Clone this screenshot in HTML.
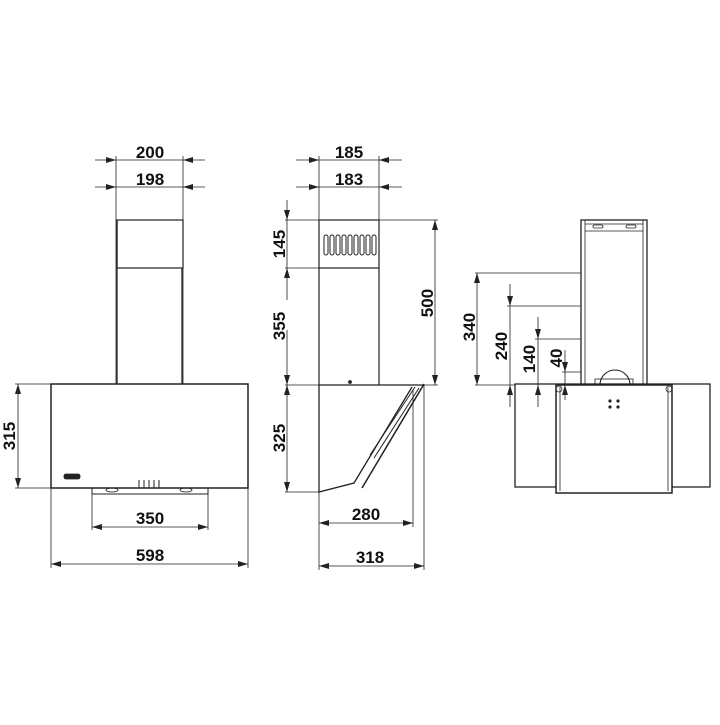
<!DOCTYPE html>
<html><head><meta charset="utf-8"><style>
body{margin:0;background:#fff}
svg text{font-family:"Liberation Sans",sans-serif;font-weight:bold;font-size:17px;fill:#111}
</style></head><body>
<svg width="720" height="720" viewBox="0 0 720 720" xmlns="http://www.w3.org/2000/svg">
<defs>
<marker id="a" viewBox="0 0 10 6" refX="10" refY="3" markerWidth="10" markerHeight="6" orient="auto-start-reverse" markerUnits="userSpaceOnUse"><path d="M0,0L10,3L0,6z" fill="#222"/></marker>
</defs>
<g stroke="#222" fill="none" stroke-width="0.8">
<line x1="116" y1="156" x2="116" y2="384"/><line x1="183" y1="156" x2="183" y2="384"/>
<line x1="95" y1="160" x2="116" y2="160" marker-end="url(#a)"/><line x1="205" y1="160" x2="183" y2="160" marker-end="url(#a)"/>
<line x1="116" y1="160" x2="183" y2="160"/>
<line x1="95" y1="187" x2="116" y2="187" marker-end="url(#a)"/><line x1="205" y1="187" x2="183" y2="187" marker-end="url(#a)"/>
<line x1="116" y1="187" x2="183" y2="187"/>
<rect x="117" y="220" width="66" height="48" stroke-width="1.2"/>
<line x1="117" y1="220" x2="117" y2="384" stroke-width="1.3"/><line x1="182" y1="268" x2="182" y2="384" stroke-width="1.3"/>
<rect x="51" y="384" width="197" height="104" stroke-width="1.5"/>
<rect x="64" y="474" width="16" height="5" rx="2" fill="#222"/>
<path d="M92,488V494H208V488" stroke-width="1"/>
<g stroke-width="1"><line x1="139" y1="488" x2="139" y2="480"/><line x1="144" y1="488" x2="144" y2="480"/><line x1="149" y1="488" x2="149" y2="480"/><line x1="154" y1="488" x2="154" y2="480"/><line x1="159" y1="488" x2="159" y2="480"/></g>
<ellipse cx="112" cy="490" rx="6" ry="2"/><ellipse cx="186" cy="490" rx="6" ry="2"/>
<line x1="15" y1="384" x2="51" y2="384"/><line x1="15" y1="488" x2="51" y2="488"/>
<line x1="18" y1="436" x2="18" y2="384" marker-end="url(#a)"/><line x1="18" y1="436" x2="18" y2="488" marker-end="url(#a)"/>
<line x1="92" y1="494" x2="92" y2="530"/><line x1="208" y1="494" x2="208" y2="530"/>
<line x1="150" y1="527" x2="92" y2="527" marker-end="url(#a)"/><line x1="150" y1="527" x2="208" y2="527" marker-end="url(#a)"/>
<line x1="51" y1="488" x2="51" y2="568"/><line x1="248" y1="488" x2="248" y2="568"/>
<line x1="150" y1="564" x2="51" y2="564" marker-end="url(#a)"/><line x1="150" y1="564" x2="248" y2="564" marker-end="url(#a)"/>

<line x1="319" y1="156" x2="319" y2="220"/><line x1="379" y1="156" x2="379" y2="220"/>
<line x1="296" y1="160" x2="319" y2="160" marker-end="url(#a)"/><line x1="402" y1="160" x2="379" y2="160" marker-end="url(#a)"/><line x1="319" y1="160" x2="379" y2="160"/>
<line x1="296" y1="187" x2="319" y2="187" marker-end="url(#a)"/><line x1="402" y1="187" x2="379" y2="187" marker-end="url(#a)"/><line x1="319" y1="187" x2="379" y2="187"/>
<rect x="319" y="220" width="60" height="48" stroke-width="1.2"/>
<line x1="319" y1="268" x2="319" y2="385" stroke-width="1.2"/><line x1="379" y1="268" x2="379" y2="385" stroke-width="1.2"/>
<g stroke-width="1">
<rect x="324" y="235" width="4" height="20" rx="2"/><rect x="330" y="235" width="4" height="20" rx="2"/><rect x="336" y="235" width="4" height="20" rx="2"/><rect x="342" y="235" width="4" height="20" rx="2"/><rect x="348" y="235" width="4" height="20" rx="2"/><rect x="354" y="235" width="4" height="20" rx="2"/><rect x="360" y="235" width="4" height="20" rx="2"/><rect x="366" y="235" width="4" height="20" rx="2"/><rect x="372" y="235" width="4" height="20" rx="2"/>
</g>
<circle cx="350" cy="382" r="1.5" fill="#222"/>
<path d="M319,385H424M319,385V492L354,483L412,387" stroke-width="1.3"/>
<line x1="362" y1="488" x2="424" y2="384" stroke-width="1.5"/>
<line x1="370" y1="455" x2="415" y2="387" stroke-width="1"/>
<line x1="374" y1="458" x2="419" y2="388" stroke-width="1"/>
<line x1="285" y1="220" x2="319" y2="220"/><line x1="379" y1="220" x2="438" y2="220"/>
<line x1="285" y1="268" x2="319" y2="268"/>
<line x1="285" y1="385" x2="319" y2="385"/><line x1="379" y1="385" x2="438" y2="385"/>
<line x1="285" y1="492" x2="319" y2="492"/>
<line x1="287" y1="200" x2="287" y2="220" marker-end="url(#a)"/>
<line x1="287" y1="220" x2="287" y2="268"/>
<line x1="287" y1="300" x2="287" y2="268" marker-end="url(#a)"/><line x1="287" y1="330" x2="287" y2="385" marker-end="url(#a)"/>
<line x1="287" y1="440" x2="287" y2="385" marker-end="url(#a)"/><line x1="287" y1="440" x2="287" y2="492" marker-end="url(#a)"/>
<line x1="435" y1="300" x2="435" y2="220" marker-end="url(#a)"/><line x1="435" y1="300" x2="435" y2="385" marker-end="url(#a)"/>
<line x1="319" y1="492" x2="319" y2="570"/>
<line x1="413" y1="390" x2="413" y2="527"/><line x1="424" y1="385" x2="424" y2="570"/>
<line x1="366" y1="523" x2="319" y2="523" marker-end="url(#a)"/><line x1="366" y1="523" x2="413" y2="523" marker-end="url(#a)"/>
<line x1="370" y1="566" x2="319" y2="566" marker-end="url(#a)"/><line x1="370" y1="566" x2="424" y2="566" marker-end="url(#a)"/>

<rect x="581" y="220" width="66" height="165" stroke-width="1.3"/>
<line x1="585" y1="220" x2="585" y2="385"/><line x1="643" y1="220" x2="643" y2="385"/>
<line x1="585" y1="224" x2="643" y2="224"/><line x1="585" y1="231" x2="643" y2="231"/>
<rect x="593" y="225" width="10" height="3" rx="1.5"/><rect x="626" y="225" width="10" height="3" rx="1.5"/>
<path d="M600,385A14,14 0 0 1 630,385" stroke-width="1.1"/>
<rect x="595" y="379" width="38" height="6"/>
<rect x="515" y="384" width="195" height="103" stroke-width="1.3"/>
<rect x="556" y="385" width="116" height="108" fill="#fff" stroke-width="1.5"/>
<line x1="560" y1="387" x2="560" y2="491"/><line x1="668" y1="387" x2="668" y2="491"/>
<circle cx="610" cy="401" r="1.2" fill="#222"/><circle cx="618" cy="401" r="1.2" fill="#222"/><circle cx="610" cy="407" r="1.2" fill="#222"/><circle cx="618" cy="407" r="1.2" fill="#222"/>
<circle cx="559" cy="389" r="3"/><circle cx="669" cy="389" r="3"/>
<line x1="475" y1="273" x2="581" y2="273"/><line x1="507" y1="306" x2="581" y2="306"/>
<line x1="535" y1="339" x2="581" y2="339"/><line x1="562" y1="372" x2="581" y2="372"/>
<line x1="475" y1="385" x2="515" y2="385"/>
<line x1="477" y1="330" x2="477" y2="273" marker-end="url(#a)"/><line x1="477" y1="330" x2="477" y2="385" marker-end="url(#a)"/>
<line x1="510" y1="284" x2="510" y2="306" marker-end="url(#a)"/><line x1="510" y1="306" x2="510" y2="385"/><line x1="510" y1="407" x2="510" y2="385" marker-end="url(#a)"/>
<line x1="538" y1="317" x2="538" y2="339" marker-end="url(#a)"/><line x1="538" y1="339" x2="538" y2="385"/><line x1="538" y1="407" x2="538" y2="385" marker-end="url(#a)"/>
<line x1="565" y1="350" x2="565" y2="372" marker-end="url(#a)"/><line x1="565" y1="372" x2="565" y2="385"/><line x1="565" y1="400" x2="565" y2="385" marker-end="url(#a)"/>
</g>
<text x="150" y="158" text-anchor="middle">200</text>
<text x="150" y="185" text-anchor="middle">198</text>
<text x="150" y="524" text-anchor="middle">350</text>
<text x="150" y="561" text-anchor="middle">598</text>
<text transform="translate(15,436) rotate(-90)" text-anchor="middle">315</text>
<text x="349" y="158" text-anchor="middle">185</text>
<text x="349" y="185" text-anchor="middle">183</text>
<text x="366" y="520" text-anchor="middle">280</text>
<text x="370" y="563" text-anchor="middle">318</text>
<text transform="translate(285,244) rotate(-90)" text-anchor="middle">145</text>
<text transform="translate(285,326) rotate(-90)" text-anchor="middle">355</text>
<text transform="translate(285,438) rotate(-90)" text-anchor="middle">325</text>
<text transform="translate(433,303) rotate(-90)" text-anchor="middle">500</text>
<text transform="translate(475,327) rotate(-90)" text-anchor="middle">340</text>
<text transform="translate(507,346) rotate(-90)" text-anchor="middle">240</text>
<text transform="translate(535,359) rotate(-90)" text-anchor="middle">140</text>
<text transform="translate(562,358) rotate(-90)" text-anchor="middle">40</text>
</svg>
</body></html>
